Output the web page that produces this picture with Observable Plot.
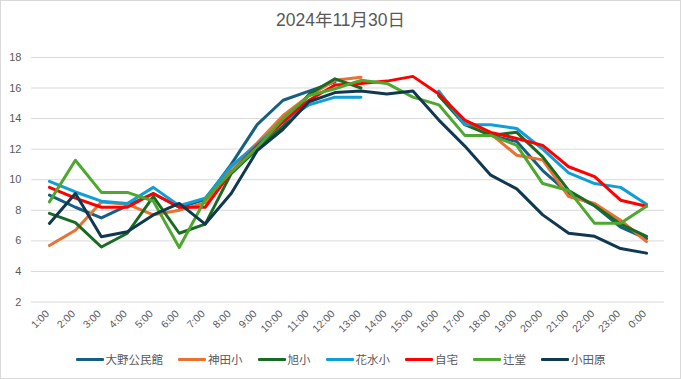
<!DOCTYPE html>
<html>
<head>
<meta charset="utf-8">
<script src="https://cdn.jsdelivr.net/npm/d3@7"></script>
<script src="https://cdn.jsdelivr.net/npm/@observablehq/plot@0.6"></script>
<style>
  html, body { margin: 0; padding: 0; background: #fff; }
  #chart { position: relative; width: 681px; height: 379px; box-sizing: border-box; border: 1px solid #d9d9d9; overflow: hidden;
    font-family: "Liberation Sans", "Noto Sans CJK JP", sans-serif; color: #595959; }
  #title { position: absolute; left: 0; right: 0; top: 5px; text-align: center; font-size: 17.5px; color: #595959; }
  #plot { position: absolute; left: -1px; top: -1px; }
  #legend { position: absolute; left: 0; right: 0; top: 350px; display: flex; justify-content: center; gap: 15px; font-size: 11.5px; color: #595959; }
  .item { display: flex; align-items: center; gap: 2px; }
  .sw { width: 28px; height: 3px; border-radius: 1px; }
</style>
</head>
<body>
<div id="chart">
  <div id="plot"></div>
  <div id="title">2024年11月30日</div>
  <div id="legend"></div>
</div>
<script>
const hours = ["1:00","2:00","3:00","4:00","5:00","6:00","7:00","8:00","9:00","10:00","11:00","12:00","13:00","14:00","15:00","16:00","17:00","18:00","19:00","20:00","21:00","22:00","23:00","0:00"];
const seriesNames = ["大野公民館","神田小","旭小","花水小","自宅","辻堂","小田原"];
const seriesColors = ["#156082","#E97132","#196B24","#0F9ED5","#FF0000","#4EA72E","#10384F"];
const yTicks = [2,4,6,8,10,12,14,16,18];

const onoKominkan = [9.0, 8.2, 7.5, 8.3, 9.1, 8.2, 8.7, 11.0, 13.6, 15.2, 15.8, 16.4, null, null, null, 15.7, 13.7, 12.9, 12.5, 10.6, 9.1, 8.3, 6.9, 6.15];
const kandasho = [5.7, 6.7, 8.55, 8.4, 7.7, 8.0, 8.5, 10.8, 12.4, 14.2, 15.5, 16.5, 16.7, null, null, 15.5, 13.8, 13.0, 11.6, 11.3, 8.9, 8.45, 7.35, 5.95];
const asahisho = [7.8, 7.2, 5.6, 6.5, 8.9, 6.5, 7.1, 10.4, 12.0, 13.5, 15.6, 16.6, 16.0, null, null, 15.5, 13.6, 12.9, 13.1, 11.5, 9.3, 8.3, 7.1, 6.3];
const hanamizusho = [9.9, 9.2, 8.6, 8.45, 9.5, 8.3, 8.8, 10.9, 12.3, 13.8, 14.9, 15.4, 15.4, null, null, 15.8, 13.6, 13.6, 13.35, 12.0, 10.45, 9.75, 9.5, 8.4];
const jitaku = [9.5, 8.8, 8.2, 8.2, 9.1, 8.2, 8.2, 10.5, 12.2, 13.8, 15.2, 16.2, 16.3, 16.45, 16.76, 15.6, 13.9, 13.1, 12.7, 12.25, 10.85, 10.2, 8.66, 8.27];
const tsujido = [8.55, 11.27, 9.17, 9.17, 8.6, 5.57, 8.7, 10.5, 12.1, 14.0, 15.5, 15.95, 16.5, 16.3, 15.4, 14.9, 12.9, 12.9, 12.25, 9.75, 9.3, 7.15, 7.15, 8.27];
const odawara = [7.14, 9.1, 6.27, 6.6, 7.7, 8.45, 7.1, 9.1, 11.9, 13.3, 15.1, 15.7, 15.8, 15.6, 15.8, 13.9, 12.2, 10.3, 9.4, 7.7, 6.5, 6.3, 5.5, 5.2];

const seriesValues = [onoKominkan, kandasho, asahisho, hanamizusho, jitaku, tsujido, odawara];

const table = [];
seriesNames.forEach((name, si) => {
  hours.forEach((h, i) => {
    const v = seriesValues[si][i];
    table.push({series: name, hour: h, value: v == null ? NaN : v});
  });
});

const chart = Plot.plot({
  width: 681,
  height: 379,
  marginLeft: 31,
  marginRight: 16,
  marginTop: 57,
  marginBottom: 77,
  style: {fontFamily: '"Liberation Sans", "Noto Sans CJK JP", sans-serif', fontSize: "11px", color: "#595959", background: "transparent"},
  x: {type: "point", domain: hours, padding: 0.5},
  y: {domain: [2, 18]},
  color: {domain: seriesNames, range: seriesColors},
  marks: [
    Plot.gridY(yTicks, {stroke: "#d9d9d9", strokeOpacity: 1, strokeWidth: 1}),
    Plot.axisY(yTicks, {tickSize: 0, tickPadding: 10, fontSize: 11, fill: "#595959", label: null}),
    Plot.axisX({tickSize: 0, tickPadding: 10, dx: -2, tickRotate: -45, fontSize: 10.5, fill: "#595959", label: null}),
    Plot.line(table, {x: "hour", y: "value", z: "series", stroke: "series", strokeWidth: 3, strokeLinejoin: "round", strokeLinecap: "round"})
  ]
});
document.getElementById("plot").appendChild(chart);

const legend = document.getElementById("legend");
seriesNames.forEach((name, i) => {
  const item = document.createElement("div");
  item.className = "item";
  const sw = document.createElement("div");
  sw.className = "sw";
  sw.style.background = seriesColors[i];
  const lab = document.createElement("span");
  lab.textContent = name;
  item.appendChild(sw);
  item.appendChild(lab);
  legend.appendChild(item);
});
</script>
</body>
</html>
